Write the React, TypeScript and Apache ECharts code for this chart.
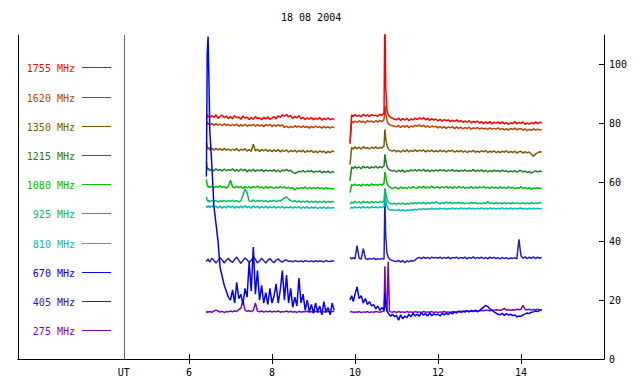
import React, { useEffect, useRef } from "react";
import * as echarts from "echarts";

const TITLE = "18 08 2004";
const UT_POS = 4.43;
const X_TICKS = [6, 8, 10, 12, 14];
const Y_TICKS = [0, 20, 40, 60, 80, 100];

const names = ["1755 MHz", "1620 MHz", "1350 MHz", "1215 MHz", "1080 MHz", "925 MHz", "810 MHz", "670 MHz", "405 MHz", "275 MHz"];
const colors = ["#ff0000", "#c04000", "#805a00", "#208020", "#00c000", "#00c060", "#00c0c0", "#0000ff", "#2020c0", "#8000c0"];

// sample times (UT hours), first and second observing segment
const xA = [6.42, 6.44, 6.46, 6.48,
  6.5, 6.55, 6.6, 6.65, 6.7, 6.75, 6.8, 6.85, 6.9, 6.95,
  7.0, 7.05, 7.1, 7.15, 7.2, 7.25, 7.3, 7.35, 7.4, 7.45,
  7.5, 7.55, 7.6, 7.65, 7.7, 7.75, 7.8, 7.85, 7.9, 7.95,
  8.0, 8.05, 8.1, 8.15, 8.2, 8.25, 8.3, 8.35, 8.4, 8.45,
  8.5, 8.55, 8.6, 8.65, 8.7, 8.75, 8.8, 8.85, 8.9, 8.95,
  9.0, 9.05, 9.1, 9.15, 9.2, 9.25, 9.3, 9.35, 9.4, 9.45,
  9.5];
const xB = [9.88, 9.92, 9.96, 10.0, 10.05, 10.1, 10.15, 10.2, 10.25, 10.3, 10.35, 10.4, 10.45, 10.5, 10.55, 10.6, 10.65, 10.7, 10.72, 10.74, 10.77, 10.8, 10.83, 10.86, 10.9, 10.95,
  11.0, 11.05, 11.1, 11.15, 11.2, 11.25, 11.3, 11.35, 11.4, 11.45,
  11.5, 11.55, 11.6, 11.65, 11.7, 11.75, 11.8, 11.85, 11.9, 11.95,
  12.0, 12.05, 12.1, 12.15, 12.2, 12.25, 12.3, 12.35, 12.4, 12.45,
  12.5, 12.55, 12.6, 12.65, 12.7, 12.75, 12.8, 12.85, 12.9, 12.95,
  13.0, 13.05, 13.1, 13.15, 13.2, 13.25, 13.3, 13.35, 13.4, 13.45,
  13.5, 13.55, 13.6, 13.65, 13.7, 13.75, 13.8, 13.85, 13.9, 13.95,
  14.0, 14.05, 14.1, 14.15, 14.2, 14.25, 14.3, 14.35, 14.4, 14.45,
  14.5];

const f1755A = [81.5, 83.0, 82.2, 82.6,
  81.8, 82.7, 82.0, 82.9, 81.7, 82.4, 82.8, 81.9, 82.5, 81.6,
  82.3, 81.5, 82.6, 81.9, 82.2, 81.4, 82.5, 81.8, 82.1, 81.3,
  82.0, 81.4, 82.3, 81.6, 81.9, 81.2, 82.1, 81.5, 82.2, 81.4,
  81.8, 82.3, 81.5, 82.6, 82.0, 82.9, 82.4, 83.0, 82.2, 82.7,
  81.6, 82.4, 81.9, 82.6, 81.5, 82.0, 81.3, 81.9, 81.4, 82.0,
  81.2, 81.8, 81.4, 82.0, 81.1, 81.7, 81.3, 81.9, 81.2, 81.6,
  81.3];
const f1755B = [73.5, 82.9, 82.3, 83.0, 82.4, 82.8, 82.2, 83.1, 82.5, 82.9, 82.3, 83.0, 82.6, 82.8, 82.4, 83.1, 82.7, 83.6, 118, 92.5, 84.5, 83.0, 82.4, 82.0, 81.8, 81.4,
  81.2, 81.8, 81.0, 81.6, 81.1, 81.7, 80.9, 81.5, 81.2, 81.8,
  81.3, 81.9, 81.4, 82.0, 81.2, 81.7, 81.0, 81.6, 81.1, 81.5,
  80.8, 81.4, 80.7, 81.3, 80.9, 81.2, 80.6, 81.1, 80.7, 81.2,
  80.5, 81.0, 80.3, 80.8, 80.4, 80.9, 80.2, 80.7, 80.3, 80.8,
  80.1, 80.6, 79.9, 80.5, 80.0, 80.6, 79.8, 80.4, 80.1, 80.5,
  79.9, 80.5, 79.8, 80.3, 79.6, 80.2, 79.9, 80.6, 79.8, 80.3,
  80.0, 80.5, 79.6, 80.2, 79.7, 80.3, 79.8, 80.5, 79.9, 80.4,
  80.2];

const f1620A = [80.6, 80.2, 79.6, 80.1,
  79.5, 80.0, 79.3, 79.9, 79.4, 79.8, 79.2, 79.9, 79.3, 79.7,
  79.1, 79.7, 79.2, 79.8, 79.0, 79.6, 79.1, 79.7, 79.0, 79.5,
  79.2, 79.7, 79.0, 79.6, 79.1, 79.5, 78.9, 79.6, 79.2, 79.7,
  78.9, 79.5, 79.0, 79.6, 79.1, 79.5, 78.6, 79.1, 78.5, 79.0,
  78.6, 79.2, 78.7, 79.1, 78.5, 79.2, 78.6, 79.0, 78.4, 79.0,
  78.5, 79.1, 78.6, 78.9, 78.4, 79.0, 78.5, 78.9, 78.4, 78.8,
  78.6];
const f1620B = [73.0, 80.7, 80.2, 80.8, 80.3, 80.9, 80.4, 80.7, 80.2, 80.9, 80.5, 80.8, 80.3, 80.9, 80.4, 81.0, 80.6, 81.3, 86.0, 83.5, 81.0, 80.0, 79.6, 79.4, 79.2, 79.0,
  78.8, 79.3, 78.6, 79.2, 78.7, 79.3, 78.5, 79.1, 78.8, 79.4,
  79.0, 79.5, 78.9, 79.4, 78.7, 79.2, 78.6, 79.1, 78.8, 79.0,
  78.5, 79.0, 78.4, 78.9, 78.3, 78.8, 78.5, 78.9, 78.2, 78.8,
  78.3, 78.7, 78.1, 78.6, 78.2, 78.7, 78.0, 78.5, 78.2, 78.6,
  78.0, 78.5, 78.1, 78.4, 77.9, 78.5, 78.0, 78.3, 78.1, 78.5,
  77.9, 78.3, 77.8, 78.2, 77.7, 78.3, 77.9, 78.4, 77.8, 78.2,
  78.2, 77.7, 78.1, 77.5, 78.0, 77.6, 78.1, 77.7, 78.0, 77.8,
  77.9];

const f1350A = [73.5, 72.0, 71.2, 71.8,
  71.0, 71.6, 70.9, 71.5, 71.0, 71.4, 70.8, 71.5, 70.9, 71.3,
  70.7, 71.3, 70.8, 71.5, 70.6, 71.2, 70.9, 71.4, 70.6, 71.1,
  70.5, 72.9, 70.6, 71.2, 70.5, 71.1, 70.7, 71.2, 70.5, 71.0,
  70.4, 71.0, 70.5, 71.1, 70.3, 70.9, 70.5, 71.0, 70.2, 70.8,
  70.4, 70.9, 70.2, 70.8, 70.3, 70.9, 70.1, 70.7, 70.3, 70.8,
  70.1, 70.6, 70.0, 70.7, 70.2, 70.6, 69.9, 70.5, 70.1, 70.6,
  70.3];
const f1350B = [66.0, 71.9, 71.3, 72.0, 71.4, 71.9, 71.3, 72.1, 71.5, 71.8, 71.3, 71.9, 71.5, 72.0, 71.4, 71.8, 71.6, 72.3, 78.0, 75.0, 72.5, 71.5, 71.0, 70.8, 70.6, 70.9,
  70.3, 70.8, 70.2, 70.9, 70.4, 71.0, 70.3, 70.8, 70.5, 71.0,
  70.4, 70.9, 70.6, 71.0, 70.3, 70.8, 70.4, 70.9, 70.3, 70.7,
  70.3, 70.9, 70.4, 70.8, 70.2, 70.8, 70.5, 70.9, 70.2, 70.7,
  70.3, 70.8, 70.2, 70.7, 70.1, 70.6, 70.3, 70.8, 70.2, 70.6,
  70.2, 70.7, 70.3, 70.8, 70.1, 70.6, 70.2, 70.7, 70.0, 70.5,
  70.1, 70.6, 70.2, 70.7, 70.0, 70.5, 70.1, 70.6, 69.9, 70.4,
  70.5, 69.9, 70.4, 70.0, 70.3, 69.5, 68.8, 69.6, 70.0, 70.4,
  70.3];

const f1215A = [66.8, 65.0, 64.2, 64.7,
  63.9, 64.5, 63.8, 64.6, 64.0, 64.4, 63.8, 64.5, 63.9, 64.3,
  64.0, 64.6, 63.8, 64.3, 63.7, 64.5, 63.9, 64.4, 63.6, 64.2,
  63.8, 64.4, 63.7, 64.2, 63.9, 64.3, 63.6, 64.2, 63.8, 64.1,
  63.8, 64.3, 63.6, 64.1, 63.5, 64.2, 63.9, 64.4, 63.8, 64.1,
  63.4, 63.0, 63.3, 63.8, 63.5, 64.0, 63.4, 63.9, 63.6, 64.0,
  63.3, 63.8, 63.5, 63.9, 63.2, 63.7, 63.4, 63.8, 63.2, 63.6,
  63.3];
const f1215B = [60.5, 65.2, 64.7, 65.3, 64.8, 65.2, 64.6, 65.4, 64.9, 65.3, 64.7, 65.2, 64.9, 65.4, 64.8, 65.3, 64.9, 65.6, 69.5, 67.5, 65.5, 64.6, 64.2, 64.0, 63.8, 64.1,
  63.5, 64.1, 63.6, 64.2, 63.4, 64.0, 63.7, 64.2, 63.9, 64.3,
  63.8, 64.3, 63.9, 64.4, 63.7, 64.2, 63.6, 64.1, 63.8, 64.2,
  63.8, 64.3, 63.9, 64.2, 63.7, 64.1, 63.9, 64.3, 63.7, 64.1,
  63.6, 64.1, 63.8, 64.2, 63.7, 64.0, 63.8, 64.3, 63.7, 64.1,
  63.8, 64.2, 63.6, 64.1, 63.5, 64.0, 63.6, 64.1, 63.7, 64.0,
  63.6, 64.1, 63.7, 63.9, 63.4, 63.9, 63.5, 64.0, 63.4, 63.9,
  64.0, 63.5, 63.8, 63.3, 63.7, 63.1, 63.5, 63.9, 63.5, 63.8,
  63.6];

const f1080A = [61.0, 59.0, 58.3, 58.8,
  58.2, 58.7, 58.1, 58.6, 58.3, 58.8, 58.2, 58.5, 58.0, 58.6,
  60.8, 58.4, 58.1, 58.7, 58.2, 58.6, 57.9, 58.5, 58.1, 58.6,
  58.0, 58.5, 58.2, 58.7, 58.1, 58.4, 57.9, 58.5, 58.0, 58.4,
  58.3, 57.9, 58.4, 58.0, 58.5, 58.1, 58.4, 57.9, 58.3, 58.0,
  58.2, 57.4, 58.1, 57.8, 58.3, 57.9, 58.4, 57.8, 58.2, 57.9,
  58.2, 57.8, 58.3, 57.9, 58.1, 57.7, 58.2, 57.8, 58.0, 57.7,
  57.9];
const f1080B = [56.5, 59.3, 58.8, 59.4, 58.9, 59.2, 58.7, 59.4, 58.9, 59.3, 58.8, 59.5, 59.0, 59.3, 58.9, 59.4, 59.0, 59.7, 63.5, 62.0, 59.8, 58.8, 58.4, 58.1, 57.9, 58.2,
  58.2, 57.7, 58.4, 57.9, 58.3, 57.8, 58.4, 58.0, 58.5, 58.1,
  58.0, 58.5, 58.1, 58.6, 58.0, 58.4, 58.1, 58.7, 58.0, 58.3,
  58.4, 57.9, 58.5, 58.1, 58.6, 58.0, 58.4, 57.9, 58.5, 58.0,
  58.6, 58.1, 58.4, 57.9, 58.3, 58.0, 58.5, 57.9, 58.4, 58.0,
  58.4, 58.1, 58.5, 58.0, 58.3, 57.9, 58.4, 58.0, 58.3, 57.9,
  58.4, 58.0, 58.3, 57.9, 58.4, 58.0, 58.3, 57.8, 58.2, 57.9,
  58.5, 57.9, 58.3, 57.8, 58.2, 57.6, 58.1, 57.9, 58.2, 57.9,
  58.0];

const f925A = [55.0, 54.0, 53.4, 53.9,
  53.3, 53.8, 53.4, 53.9, 53.3, 53.7, 53.5, 53.9, 53.4, 53.8,
  53.5, 53.9, 53.4, 53.8, 53.3, 53.7, 55.5, 57.8, 56.5, 53.6,
  53.5, 54.0, 53.4, 53.8, 53.5, 53.9, 53.4, 53.8, 53.3, 53.7,
  53.5, 53.9, 53.4, 53.8, 53.6, 54.2, 54.6, 55.0, 54.3, 53.8,
  53.4, 53.8, 53.3, 53.7, 53.2, 53.6, 53.3, 53.7, 53.2, 53.6,
  53.2, 53.6, 53.1, 53.5, 53.2, 53.6, 53.1, 53.5, 53.2, 53.5,
  53.4];
const f925B = [52.5, 53.3, 52.9, 53.5, 53.0, 53.4, 52.9, 53.5, 53.1, 53.4, 52.9, 53.5, 53.0, 53.4, 53.1, 53.5, 53.2, 53.7, 58.0, 56.5, 54.3, 53.3, 52.9, 52.7, 52.6, 52.9,
  52.5, 52.9, 52.6, 53.0, 52.5, 52.8, 52.6, 53.0, 52.7, 53.1,
  52.7, 53.1, 52.8, 53.2, 52.7, 53.1, 52.8, 53.2, 52.9, 53.3,
  53.0, 52.7, 53.2, 52.8, 53.3, 52.9, 53.2, 52.8, 53.1, 52.9,
  53.2, 52.8, 53.1, 52.7, 53.0, 52.8, 53.2, 52.9, 53.1, 52.7,
  53.0, 52.7, 53.1, 52.8, 53.5, 52.8, 53.0, 52.7, 53.1, 52.8,
  53.0, 52.7, 53.1, 52.8, 53.0, 52.7, 53.1, 52.8, 53.0, 52.8,
  52.8, 53.1, 52.7, 53.0, 52.7, 53.1, 52.8, 53.0, 52.8, 53.1,
  53.0];

const f810A = [51.4, 52.0, 51.5, 52.1,
  51.5, 52.0, 51.4, 51.9, 51.3, 51.9, 51.2, 51.8, 51.3, 52.0,
  51.4, 51.9, 51.2, 51.8, 51.3, 51.9, 51.3, 52.0, 51.4, 51.8,
  51.2, 52.0, 51.4, 51.8, 51.2, 51.7, 51.3, 51.9, 51.2, 51.7,
  51.3, 51.8, 51.2, 51.7, 51.3, 51.8, 51.2, 51.6, 51.3, 51.7,
  51.2, 51.6, 51.3, 51.7, 51.1, 51.6, 51.2, 51.7, 51.1, 51.6,
  51.2, 51.6, 51.1, 51.5, 51.2, 51.6, 51.1, 51.5, 51.2, 51.4,
  51.3];
const f810B = [51.0, 51.6, 51.2, 51.7, 51.3, 51.6, 51.2, 51.7, 51.3, 51.6, 51.2, 51.7, 51.4, 51.6, 51.3, 51.7, 51.4, 51.8, 56.0, 54.0, 52.0, 51.0, 50.7, 50.6, 50.7, 50.5,
  50.4, 50.8, 50.3, 50.7, 50.2, 50.6, 50.4, 50.8, 50.5, 50.9,
  50.6, 51.0, 50.7, 51.1, 50.7, 51.0, 50.8, 51.2, 50.8, 51.1,
  50.8, 51.2, 50.9, 51.2, 50.8, 51.1, 50.9, 51.3, 50.9, 51.2,
  50.9, 51.3, 51.0, 51.2, 50.9, 51.3, 51.0, 51.2, 50.9, 51.2,
  50.9, 51.3, 51.0, 51.2, 50.9, 51.3, 51.0, 51.2, 50.9, 51.2,
  51.0, 51.3, 50.9, 51.2, 50.9, 51.3, 50.9, 51.2, 50.9, 51.2,
  51.3, 50.9, 51.2, 50.8, 51.2, 50.9, 51.2, 50.9, 51.2, 51.0,
  51.0];

const f670A = [62, 104, 109.5, 95,
  78, 66, 52, 46, 40, 31, 28, 25, 23, 21,
  20, 23.5, 19, 26, 20.5, 22, 18.5, 24, 21, 33,
  23, 38, 22, 30, 20, 25, 19, 22.5, 18.5, 24,
  19, 21.5, 25.5, 19, 23.5, 30, 20, 28.5, 19, 24,
  17.5, 21, 18, 27.5, 19, 22, 16.5, 20, 16, 18.5,
  15.5, 19, 16, 18, 15, 19.5, 16, 17.5, 15, 19,
  16.5];
const f670B = [20.0, 21.5, 19.5, 22.0, 24.5, 20.5, 21.5, 19.0, 20.5, 18.5, 19.5, 18.0, 18.5, 17.0, 18.0, 16.5, 17.5, 16.5, 22.5, 18.5, 16.5, 15.5, 15.0, 14.5, 15.2, 14.4,
  14.8, 13.2, 15.0, 13.6, 14.6, 14.0, 15.2, 14.3, 15.5, 14.6,
  15.3, 14.5, 15.8, 14.9, 15.4, 14.6, 15.6, 14.7, 15.3, 15.0,
  15.2, 14.6, 15.5, 15.0, 15.6, 15.1, 15.8, 15.3, 16.0, 15.6,
  16.3, 15.8, 16.2, 15.9, 16.4, 16.0, 16.5, 16.1, 16.6, 16.0,
  16.5, 17.0, 17.6, 18.2, 17.8, 17.0, 16.5, 16.0, 15.6, 15.2,
  15.0, 15.5, 14.8, 15.4, 14.9, 15.2, 14.7, 15.0, 14.3, 14.6,
  14.5, 15.0, 15.3, 15.6, 15.4, 15.9, 16.0, 16.3, 16.1, 16.5,
  16.7];

const f405A = [33.0, 33.6, 34.0, 33.3,
  32.9, 34.2, 33.5, 32.6, 33.4, 34.4, 33.6, 32.6, 33.5, 34.2,
  33.3, 32.8, 33.8, 34.6, 33.5, 32.5, 33.4, 34.3, 33.7, 32.8,
  33.5, 34.7, 33.8, 32.6, 33.3, 34.2, 33.4, 32.6, 33.5, 34.1,
  33.2, 32.7, 33.6, 34.0, 33.3, 32.9, 33.5, 33.6, 33.1, 33.3,
  33.0, 33.4, 33.2, 33.1, 33.3, 33.0, 33.4, 33.2, 33.1, 33.3,
  33.0, 33.4, 33.1, 33.3, 33.2, 33.0, 33.4, 33.2, 33.1, 33.3,
  33.3];
const f405B = [34.5, 34.0, 34.4, 34.0, 38.5, 34.2, 33.9, 37.5, 34.2, 33.8, 34.1, 33.9, 34.2, 33.8, 34.0, 33.9, 34.1, 33.9, 54.5, 42.0, 36.0, 34.6, 34.0, 33.6, 33.5, 33.2,
  33.1, 33.5, 32.9, 33.4, 32.7, 33.3, 33.0, 33.5, 33.2, 33.6,
  34.2, 34.5, 34.1, 34.6, 34.2, 34.5, 34.1, 34.6, 34.3, 34.5,
  34.2, 34.6, 34.1, 34.5, 34.2, 34.6, 34.0, 34.5, 34.3, 34.6,
  34.1, 34.5, 34.2, 34.6, 34.0, 34.5, 34.2, 34.7, 34.1, 34.5,
  34.2, 34.6, 34.1, 34.5, 34.0, 34.6, 34.2, 34.5, 34.1, 34.4,
  34.0, 34.5, 34.1, 34.4, 34.0, 34.3, 34.1, 34.4, 34.0, 40.6,
  35.0, 34.2, 34.7, 34.1, 34.6, 34.2, 34.7, 34.1, 34.6, 34.2,
  34.5];

const f275A = [16.2, 15.8, 16.1, 15.9,
  16.2, 15.8, 16.3, 16.6, 16.3, 15.9, 16.2, 15.8, 16.1, 16.0,
  16.3, 16.0, 16.4, 16.1, 16.8, 17.2, 19.8, 16.6, 16.2, 16.4,
  16.1, 16.5, 19.0, 16.3, 16.0, 16.3, 15.9, 16.2, 16.0, 16.3,
  15.9, 16.2, 16.0, 16.3, 15.9, 16.1, 16.0, 16.3, 15.9, 16.2,
  15.9, 16.1, 15.8, 16.2, 15.9, 16.1, 16.0, 16.2, 15.9, 16.1,
  15.8, 16.2, 15.9, 16.1, 15.8, 16.1, 15.9, 16.2, 15.9, 16.1,
  16.1];
const f275B = [15.9, 16.1, 15.8, 16.0, 15.9, 16.1, 15.8, 16.0, 15.9, 16.1, 15.8, 16.0, 15.9, 16.1, 16.0, 15.9, 16.1, 16.2, 31.5, 19.0, 16.0, 33.0, 16.3, 16.0, 15.9, 16.1,
  15.8, 16.1, 15.9, 16.0, 15.8, 16.1, 15.9, 16.0, 15.8, 16.1,
  15.9, 16.0, 15.8, 16.1, 15.9, 16.0, 15.9, 16.1, 15.8, 16.0,
  15.8, 16.0, 15.9, 16.1, 15.9, 16.0, 15.8, 16.1, 15.9, 16.0,
  16.0, 16.2, 16.1, 16.3, 16.2, 16.1, 16.3, 16.2, 16.4, 16.3,
  16.3, 16.5, 16.4, 16.6, 16.5, 16.4, 16.6, 16.5, 16.7, 16.6,
  16.5, 16.7, 17.2, 16.6, 16.8, 16.5, 16.7, 16.6, 16.9, 16.7,
  16.9, 18.2, 16.8, 16.7, 16.9, 16.6, 16.8, 16.7, 16.9, 16.7,
  16.6];

const segA = [f1755A, f1620A, f1350A, f1215A, f1080A, f925A, f810A, f670A, f405A, f275A];
const segB = [f1755B, f1620B, f1350B, f1215B, f1080B, f925B, f810B, f670B, f405B, f275B];

const FONT = '"DejaVu Sans Mono", "Liberation Mono", monospace';

function buildData(i: number) {
  const a: any[] = [];
  const nA = Math.min(xA.length, segA[i].length);
  for (let k = 0; k < nA; k++) a.push([xA[k], segA[i][k]]);
  const b: any[] = [];
  const nB = Math.min(xB.length, segB[i].length);
  for (let k = 0; k < nB; k++) b.push([xB[k], segB[i][k]]);
  return [...a, [9.7, "-"], ...b];
}

export default function App() {
  const ref = useRef<HTMLDivElement>(null);
  useEffect(() => {
    if (!ref.current) return;
    const chart = echarts.init(ref.current, null, { renderer: "svg" });
    const zOrder = [9, 8, 7, 6, 5, 4, 3, 10, 2, 1];
    const series: any[] = names.map((n, i) => ({
      name: n,
      type: "line",
      data: buildData(i),
      showSymbol: false,
      symbol: "none",
      connectNulls: false,
      clip: true,
      z: zOrder[i],
      lineStyle: { color: colors[i], width: 1.5 },
      itemStyle: { color: colors[i] },
    }));
    series[0].markLine = {
      silent: true,
      symbol: ["none", "none"],
      label: { show: false },
      lineStyle: { color: "#666666", type: "solid", width: 1 },
      data: [{ xAxis: UT_POS }],
    };
    const legendGraphics: any[] = [];
    names.forEach((n, i) => {
      const y = Math.round(67.3 + i * 29.2) + 0.5;
      legendGraphics.push({
        type: "text",
        x: 75,
        y: y + 1,
        style: { text: n, fill: colors[i], font: `10px ${FONT}`, align: "right", verticalAlign: "middle" },
      });
      legendGraphics.push({
        type: "line",
        shape: { x1: 82, y1: y, x2: 111, y2: y },
        style: { stroke: colors[i], lineWidth: 1 },
      });
    });
    const axisCommon = {
      type: "value",
      min: 1.88,
      max: 16,
      splitLine: { show: false },
      axisLine: { show: true, lineStyle: { color: "#000", width: 1 } },
    };
    chart.setOption({
      animation: false,
      backgroundColor: "#ffffff",
      title: {
        text: TITLE,
        left: 281,
        top: 12,
        padding: 0,
        textStyle: { fontFamily: FONT, fontSize: 10, fontWeight: "normal", color: "#000" },
      },
      grid: { left: 18, top: 35, width: 586, height: 324, containLabel: false },
      xAxis: [
        {
          ...axisCommon,
          position: "bottom",
          axisTick: { show: true, inside: true, length: 5, customValues: X_TICKS, lineStyle: { color: "#000" } },
          axisLabel: {
            show: true,
            customValues: [UT_POS, ...X_TICKS],
            formatter: (v: number) => (Math.abs(v - UT_POS) < 1e-6 ? "UT" : String(v)),
            color: "#000",
            fontFamily: FONT,
            fontSize: 10,
            margin: 8,
          },
        },
        {
          ...axisCommon,
          position: "top",
          axisTick: { show: true, inside: true, length: 5, customValues: X_TICKS, lineStyle: { color: "#000" } },
          axisLabel: { show: false },
        },
      ],
      yAxis: [
        {
          type: "value",
          min: 0,
          max: 110,
          position: "left",
          splitLine: { show: false },
          axisLine: { show: true, lineStyle: { color: "#000", width: 1 } },
          axisTick: { show: false },
          axisLabel: { show: false },
        },
        {
          type: "value",
          min: 0,
          max: 110,
          position: "right",
          splitLine: { show: false },
          axisLine: { show: true, lineStyle: { color: "#000", width: 1 } },
          axisTick: { show: true, inside: true, length: 5, customValues: Y_TICKS, lineStyle: { color: "#000" } },
          axisLabel: {
            show: true,
            customValues: Y_TICKS,
            color: "#000",
            fontFamily: FONT,
            fontSize: 10,
            margin: 5,
          },
        },
      ],
      graphic: legendGraphics,
      series,
    });
    return () => chart.dispose();
  }, []);
  return <div ref={ref} style={{ position: "fixed", left: 0, top: 0, width: 640, height: 384, background: "#fff" }} />;
}
